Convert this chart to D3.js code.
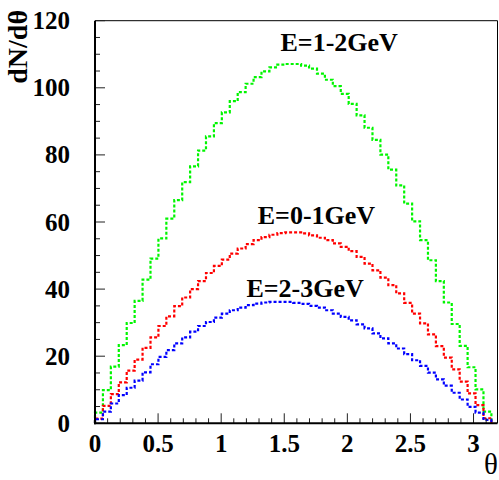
<!DOCTYPE html>
<html>
<head>
<meta charset="utf-8">
<script src="https://cdn.jsdelivr.net/npm/d3@7"></script>
<style>
  html, body { margin: 0; padding: 0; background: #fff; }
</style>
</head>
<body>
<div id="chart"></div>
<script>
// dN/dtheta histograms, 50 bins over [0, pi]
const nBins = 50;
const thetaMax = Math.PI;
const green = [3.2, 9.9, 16.9, 23.3, 29.9, 36.5, 42.8, 49.1, 55.1, 61.0,
  66.5, 71.9, 76.6, 81.3, 85.5, 89.5, 92.7, 96.0, 98.7, 101.2,
  103.2, 104.9, 106.1, 106.9, 107.1, 107.1, 106.6, 105.7, 104.2, 102.4,
  100.5, 98.2, 95.2, 91.8, 88.1, 84.5, 80.1, 75.6, 70.9, 65.5,
  60.2, 54.6, 48.6, 42.4, 36.0, 29.6, 23.1, 16.7, 10.1, 3.5];
const red = [1.4, 5.2, 8.7, 12.2, 15.7, 19.0, 22.5, 25.6, 29.0, 31.9,
  34.9, 37.5, 40.0, 42.4, 44.8, 46.9, 48.8, 50.6, 52.1, 53.4,
  54.6, 55.5, 56.2, 56.7, 56.9, 56.9, 56.6, 56.0, 55.3, 54.6,
  53.6, 52.6, 51.3, 49.6, 47.6, 45.6, 43.4, 41.2, 38.7, 35.9,
  32.7, 29.8, 26.5, 23.0, 19.6, 16.1, 12.4, 8.9, 5.4, 1.5];
const blue = [1.2, 3.5, 5.9, 8.4, 10.6, 12.7, 15.2, 17.6, 19.8, 21.8,
  23.8, 25.6, 27.3, 29.0, 30.2, 31.5, 32.7, 33.7, 34.5, 35.2,
  35.7, 36.0, 36.2, 36.2, 36.2, 35.9, 35.6, 35.0, 34.5, 33.7,
  32.7, 31.7, 30.7, 29.5, 28.3, 26.8, 25.3, 23.8, 22.3, 20.6,
  18.8, 17.1, 15.1, 13.1, 11.2, 9.1, 7.1, 4.9, 3.2, 1.0];
const xTicks = [0, 0.5, 1, 1.5, 2, 2.5, 3];
const yTicks = [0, 20, 40, 60, 80, 100, 120];
const labels = [
  { text: 'E=1-2GeV', x: 1.47, y: 111.0 },
  { text: 'E=0-1GeV', x: 1.29, y: 59.5 },
  { text: 'E=2-3GeV', x: 1.20, y: 37.6 }
];

const W = 499, H = 480;
const padL = 95, padR = 497.5, padT = 20.7, padB = 423.3;
const FONT = "'Liberation Serif', 'Times New Roman', serif";

const x = d3.scaleLinear().domain([0, 3.19]).range([padL, padR]);
const y = d3.scaleLinear().domain([0, 120]).range([padB, padT]);

const svg = d3.select('#chart').append('svg')
  .attr('width', W).attr('height', H)
  .attr('font-family', FONT);

// histograms as steps
const binW = thetaMax / nBins;
function stepPoints(vals){
  const pts = [[0, 0]];
  vals.forEach((v, i) => pts.push([i * binW, v]));
  pts.push([nBins * binW, 0]);
  return pts;
}
const line = d3.line().x(d => x(d[0])).y(d => y(d[1])).curve(d3.curveStepAfter);
[[green, '#00f500'], [red, '#ff0000'], [blue, '#0000ff']].forEach(([vals, col]) => {
  svg.append('path')
    .attr('d', line(stepPoints(vals)))
    .attr('fill', 'none')
    .attr('stroke', col)
    .attr('stroke-width', 2.2)
    .attr('stroke-dasharray', '3,2');
});

// frame
svg.append('path')
  .attr('d', `M${padL},${padT}H${padR}V${padB}`)
  .attr('fill', 'none').attr('stroke', '#000').attr('stroke-width', 1);

// x axis: ticks inside, pointing up
const xMinor = d3.range(0, 3.19, 0.1);
svg.append('g').selectAll('line').data(xMinor).join('line')
  .attr('x1', d => x(d)).attr('x2', d => x(d))
  .attr('y1', padB).attr('y2', d => padB - (Math.abs(d * 2 - Math.round(d * 2)) < 1e-6 ? 10 : 5))
  .attr('stroke', '#222').attr('stroke-width', 1);
svg.append('g').selectAll('text').data(xTicks).join('text')
  .attr('x', d => x(d)).attr('y', 452)
  .attr('text-anchor', 'middle')
  .attr('font-size', 25).attr('font-weight', 'bold')
  .text(d => d);

// y axis: ticks inside, pointing right
const yMinor = d3.range(0, 121, 5);
svg.append('g').selectAll('line').data(yMinor).join('line')
  .attr('x1', padL).attr('x2', d => padL + (d % 20 === 0 ? 10 : 5))
  .attr('y1', d => y(d)).attr('y2', d => y(d))
  .attr('stroke', '#222').attr('stroke-width', 1);
svg.append('g').selectAll('text').data(yTicks).join('text')
  .attr('x', 70).attr('y', d => y(d) + 8.5)
  .attr('text-anchor', 'end')
  .attr('font-size', 25).attr('font-weight', 'bold')
  .text(d => d);

// axis lines
svg.append('line').attr('x1', padL).attr('x2', padL).attr('y1', padT).attr('y2', padB + 1)
  .attr('stroke', '#000').attr('stroke-width', 2);
svg.append('line').attr('x1', padL - 1).attr('x2', padR).attr('y1', padB).attr('y2', padB)
  .attr('stroke', '#000').attr('stroke-width', 2);

// titles
svg.append('text')
  .attr('transform', 'translate(27,10) rotate(-90)')
  .attr('text-anchor', 'end')
  .attr('font-size', 28).attr('font-weight', 'bold')
  .text('dN/dθ');
svg.append('text')
  .attr('x', 498).attr('y', 474)
  .attr('text-anchor', 'end')
  .attr('font-size', 29)
  .text('θ');

// energy labels
svg.append('g').selectAll('text').data(labels).join('text')
  .attr('x', d => x(d.x)).attr('y', d => y(d.y))
  .attr('font-size', 26).attr('font-weight', 'bold')
  .text(d => d.text);
</script>
</body>
</html>
